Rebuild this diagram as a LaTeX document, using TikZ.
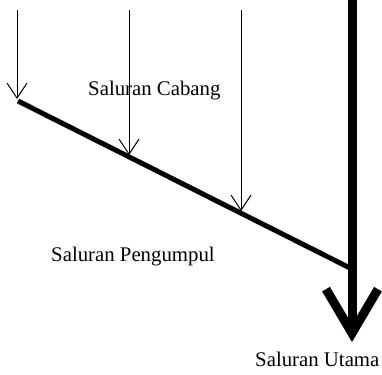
\documentclass[tikz,border=0pt]{standalone}
\usepackage{fontspec}
\setmainfont{Liberation Serif}
\usetikzlibrary{arrows.meta}
\tikzset{
  lbl/.style={font=\fontsize{20.8}{25}\selectfont, inner sep=0pt, anchor=base west},
  branch/.style={line width=1pt, -{Straight Barb[length=15pt,width=20pt,line width=1pt]}},
  collector/.style={line width=5pt},
  mainline/.style={line width=9pt, -{Straight Barb[length=44pt,width=52pt,line width=9pt]}}
}
\begin{document}
\begin{tikzpicture}[x=1pt,y=-1pt]
  \useasboundingbox (0,0) rectangle (382,374);
  % collector line endpoints
  \coordinate (cstart) at (18,101);
  \coordinate (cend) at (350,268);
  % branch inlets and their landing points on the collector
  \coordinate (b1top) at (17,10);
  \coordinate (b1) at (17,99);
  \coordinate (b2top) at (129,10);
  \coordinate (b2) at (129,155);
  \coordinate (b3top) at (241,10);
  \coordinate (b3) at (241,211);
  % main channel
  \coordinate (mtop) at (352,-5);
  \coordinate (mend) at (352,342);

  \draw[collector] (cstart) -- (cend);
  \draw[mainline] (mtop) -- (mend);
  \draw[branch] (b1top) -- (b1);
  \draw[branch] (b2top) -- (b2);
  \draw[branch] (b3top) -- (b3);

  \node[lbl] (cabang) at (88,96) {Saluran Cabang};
  \node[lbl] (pengumpul) at (51,261) {Saluran Pengumpul};
  \node[lbl] (utama) at (255,366) {Saluran Utama};
\end{tikzpicture}
\end{document}
